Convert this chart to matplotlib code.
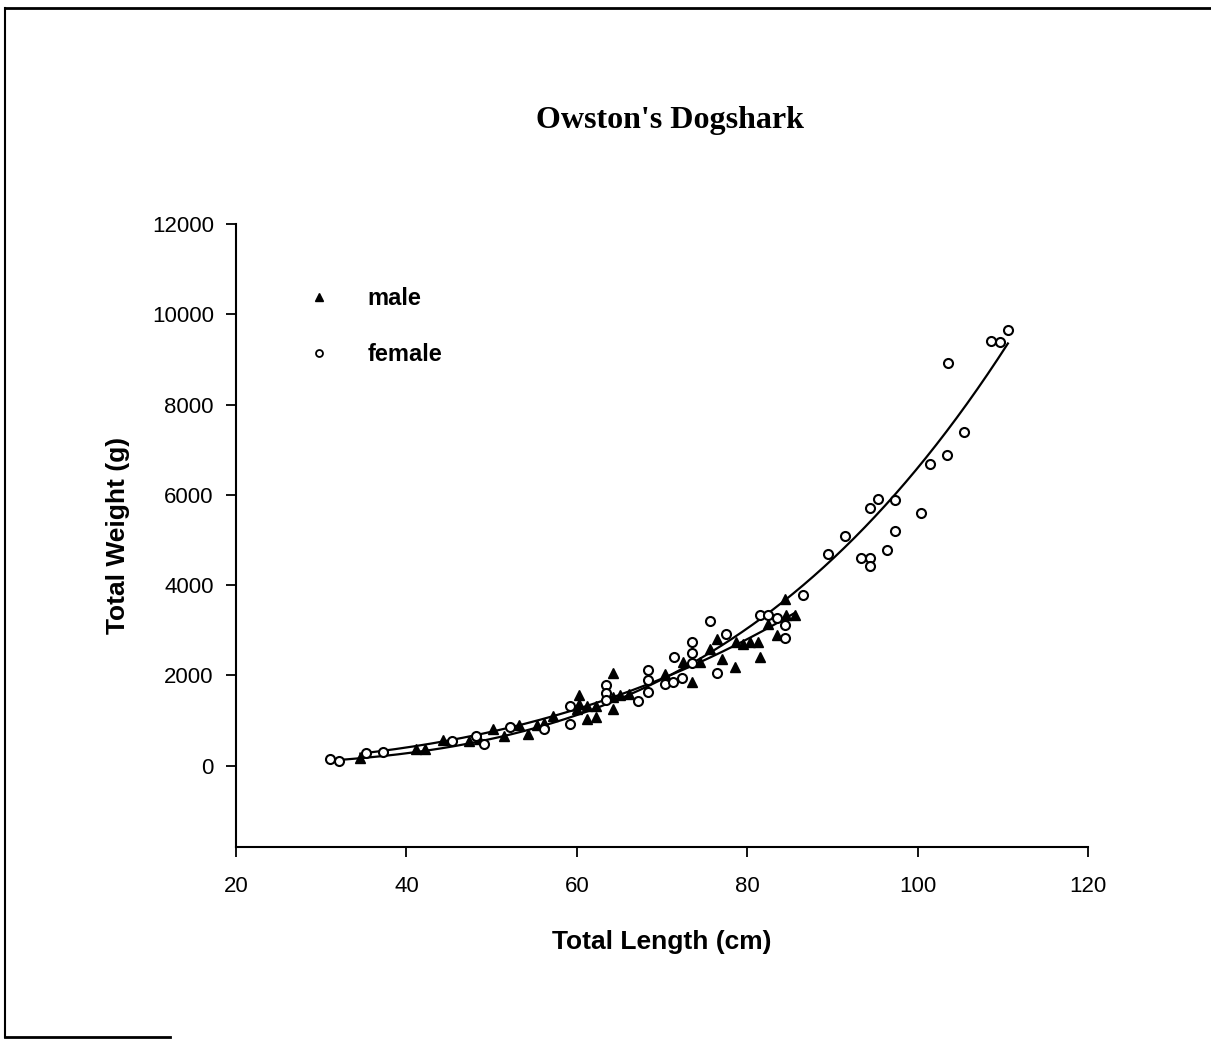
import numpy as np
import matplotlib.pyplot as plt
from matplotlib.lines import Line2D

# male: total length (cm) and total weight (g)
male_len = [34.6, 41.1, 42.2, 44.3, 47.4, 48.5, 50.2, 51.4, 53.2, 54.3, 55.3, 56.2,
            57.2, 60.0, 60.2, 60.3, 61.2, 61.2, 62.2, 62.3, 64.3, 64.3, 64.3, 65.1,
            66.1, 70.4, 72.5, 73.5, 74.5, 75.6, 76.5, 77.0, 78.6, 78.7, 79.5, 80.3,
            81.3, 81.5, 82.5, 83.5, 84.4, 84.6, 85.6]
male_wt = [170, 370, 370, 560, 556, 600, 815, 667, 900, 700, 900, 950,
           1100, 1250, 1556, 1370, 1333, 1037, 1333, 1074, 2052, 1519, 1259, 1556,
           1593, 2037, 2296, 1852, 2296, 2593, 2815, 2370, 2185, 2741, 2704, 2741,
           2741, 2407, 3148, 2889, 3704, 3333, 3333]

# female
female_len = [31.0, 32.1, 35.2, 37.2, 45.3, 48.2, 49.1, 52.2, 56.2, 59.2, 59.2, 63.4,
              63.4, 63.4, 67.2, 68.4, 68.4, 68.4, 70.4, 71.3, 71.4, 72.4, 73.5, 73.5,
              73.5, 75.6, 76.4, 77.5, 81.5, 82.5, 83.5, 84.4, 84.4, 86.5, 89.5, 91.5,
              93.4, 94.4, 94.4, 94.4, 95.4, 96.4, 97.3, 97.4, 100.4, 101.5, 103.5, 103.6,
              105.5, 108.6, 109.7, 110.6]
female_wt = [150, 110, 274, 296, 545, 650, 490, 852, 805, 1333, 920, 1790,
             1620, 1450, 1425, 2111, 1889, 1630, 1815, 1852, 2407, 1948, 2741, 2504,
             2274, 3207, 2050, 2911, 3348, 3348, 3281, 3126, 2830, 3785, 4689, 5096,
             4600, 4600, 4415, 5704, 5904, 4778, 5193, 5889, 5607, 6689, 6889, 8911,
             7393, 9407, 9393, 9644]

x_ticks = [20, 40, 60, 80, 100, 120]
y_ticks = [0, 2000, 4000, 6000, 8000, 10000, 12000]


def power_fit(lx, wy):
    # W = a * L^b; weighting by W makes the log fit behave like a least squares fit on W
    lx, wy = np.asarray(lx), np.asarray(wy)
    b, ln_a = np.polyfit(np.log(lx), np.log(wy), 1, w=wy)
    xs = np.linspace(lx.min(), lx.max(), 200)
    return xs, np.exp(ln_a) * xs ** b


fig = plt.figure(figsize=(12.11, 10.41), dpi=100)
ax = fig.add_axes([0.1949, 0.1864, 0.7035, 0.5984])

mx, my = power_fit(male_len, male_wt)
fx, fy = power_fit(female_len, female_wt)
ax.plot(mx, my, color='black', lw=1.6)
ax.plot(fx, fy, color='black', lw=1.6)

ax.plot(male_len, male_wt, linestyle='none', marker='^', ms=7.5,
        color='black', label='male')
ax.plot(female_len, female_wt, linestyle='none', marker='o', ms=6.5,
        mfc='white', mec='black', mew=1.5, label='female')

ax.set_xlim(20, 120)
ax.set_ylim(-1800, 12000)
ax.set_xticks(x_ticks)
ax.set_yticks(y_ticks)
ax.spines['top'].set_visible(False)
ax.spines['right'].set_visible(False)
ax.spines['left'].set_linewidth(1.5)
ax.spines['bottom'].set_linewidth(1.5)
ax.tick_params(direction='out', length=7, width=1.3, labelsize=16)
ax.tick_params(axis='x', pad=14)
ax.tick_params(axis='y', pad=9)
for lab in ax.get_xticklabels() + ax.get_yticklabels():
    lab.set_fontfamily('Liberation Sans')

ax.set_xlabel('Total Length (cm)', fontsize=19, fontweight='bold',
              fontfamily='Liberation Sans', labelpad=24)
ax.set_ylabel('Total Weight (g)', fontsize=19, fontweight='bold',
              fontfamily='Liberation Sans', labelpad=16)

fig.text(0.553, 0.884, "Owston's Dogshark", ha='center', va='center',
         fontsize=23, fontweight='bold', fontfamily='Liberation Serif')

handles = [Line2D([], [], linestyle='none', marker='^', ms=6, color='black'),
           Line2D([], [], linestyle='none', marker='o', ms=5, mfc='white',
                  mec='black', mew=1.3)]
ax.legend(handles, ['male', 'female'], loc='upper left',
          bbox_to_anchor=(0.045, 0.933), frameon=False, handletextpad=1.05,
          labelspacing=1.4, prop={'family': 'Liberation Sans', 'weight': 'bold', 'size': 17})

# scanned page border
fig.add_artist(Line2D([0.004, 0.004], [0.004, 0.992], transform=fig.transFigure, color='black', lw=1.5))
fig.add_artist(Line2D([0.004, 1.0], [0.992, 0.992], transform=fig.transFigure, color='black', lw=2))
fig.add_artist(Line2D([0.004, 0.14], [0.004, 0.004], transform=fig.transFigure, color='black', lw=2))

fig.savefig('out.png', dpi=100)
